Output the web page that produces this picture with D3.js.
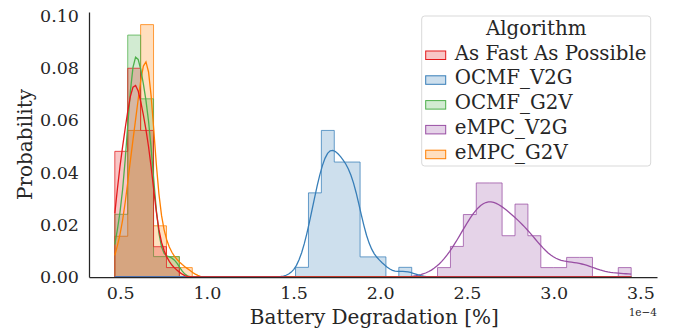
<!DOCTYPE html>
<html>
<head>
<meta charset="utf-8">
<script src="https://cdn.jsdelivr.net/npm/d3@7"></script>
<style>
    body { margin: 0; background: #fff; }
    text { font-family: "DejaVu Serif", serif; fill: #262626; }
</style>
</head>
<body>
<div id="graph"></div>
<script>
// data (x in units of 1e-4 %)
const algorithms = ["As Fast As Possible", "OCMF_V2G", "OCMF_G2V", "eMPC_V2G", "eMPC_G2V"];
const colors = ["#e41a1c", "#377eb8", "#4daf4a", "#984ea3", "#ff7f00"];

// shared bins
const binMin = 0.469,
    binMax = 3.447,
    nBins = 40;

// first bin index of each algorithm, then probability per bin
const firstBin = [0, 14, 0, 25, 0];
const probAfap = [0.0481, 0.0799, 0.0561, 0.0116, 0.0036];
const probOcmfV2G = [0.0037, 0.0322, 0.0561, 0.044, 0.044, 0.0077, 0.0077, 0, 0.0037];
const probOcmfG2V = [0.024, 0.0926, 0.0682, 0.0078, 0.0078];
const probEmpcV2G = [0.0036, 0.0117, 0.0239, 0.036, 0.036, 0.0158, 0.0279, 0.0158, 0.0036, 0.0036, 0.0075, 0.0075, 0, 0, 0.0036];
const probEmpcG2V = [0.0156, 0.0561, 0.0966, 0.0196, 0.0078, 0.0036];
const samplesPerAlgorithm = 54;

const xTicks = [0.5, 1.0, 1.5, 2.0, 2.5, 3.0, 3.5];
const yTicks = [0, 0.02, 0.04, 0.06, 0.08, 0.10];

const probs = [probAfap, probOcmfV2G, probOcmfG2V, probEmpcV2G, probEmpcG2V];

// set up svg
const margin = {
        top: 12,
        right: 23,
        bottom: 54,
        left: 89
    },
    width = 680 - margin.left - margin.right,
    height = 331 - margin.top - margin.bottom;

let svg = d3.select("#graph")
    .append("svg")
    .attr("width", width + margin.left + margin.right)
    .attr("height", height + margin.top + margin.bottom)
    .append("g")
    .attr("transform", "translate(" + margin.left + "," + margin.top + ")");

const binWidth = (binMax - binMin) / nBins;
const edges = d3.range(nBins + 1).map(i => binMin + i * binWidth);

// full histogram per algorithm (zeros outside its range)
let series = algorithms.map(function (name, s) {
    let h = d3.range(nBins).map(i => {
        let j = i - firstBin[s];
        return j >= 0 && j < probs[s].length ? probs[s][j] : 0;
    });
    return { name: name, color: colors[s], heights: h };
});

const span = binMax - binMin;
const yMax = d3.max(series, d => d3.max(d.heights));

let x = d3.scaleLinear()
    .domain([binMin - 0.05 * span, binMax + 0.05 * span])
    .range([0, width]);

let y = d3.scaleLinear()
    .domain([0, yMax * 1.05])
    .range([height, 0]);

// normal cdf (Abramowitz & Stegun erf)
function phi(z) {
    let t = z / Math.SQRT2,
        s = t < 0 ? -1 : 1;
    t = Math.abs(t);
    let k = 1 / (1 + 0.3275911 * t);
    let e = 1 - (((((1.061405429 * k - 1.453152027) * k) + 1.421413741) * k - 0.284496736) * k + 0.254829592) * k * Math.exp(-t * t);
    return 0.5 * (1 + s * e);
}

// kde from the binned values: each bin spread evenly, gaussian kernel, scott bandwidth
const grid = d3.range(200).map(i => binMin + i * span / 199);
series.forEach(function (d) {
    let centers = edges.slice(0, nBins).map(e => e + binWidth / 2);
    let total = d3.sum(d.heights);
    let mean = d3.sum(d.heights, (h, i) => h * centers[i]) / total;
    let variance = d3.sum(d.heights, (h, i) => h * (centers[i] - mean) ** 2) / total;
    let bw = Math.sqrt(variance) * Math.pow(samplesPerAlgorithm, -0.2);
    d.kde = grid.map(function (g) {
        let v = 0;
        d.heights.forEach(function (h, i) {
            if (h > 0) {
                v += h * (phi((g - edges[i]) / bw) - phi((g - edges[i + 1]) / bw));
            }
        });
        return [g, v];
    });
});

// step outline like seaborn's element="step"
function stepPath(h) {
    let pts = [[x(edges[0]), y(0)]];
    h.forEach(function (v, i) {
        pts.push([x(edges[i]), y(v)]);
        pts.push([x(edges[i + 1]), y(v)]);
    });
    pts.push([x(edges[nBins]), y(0)]);
    return "M" + pts.join("L") + "Z";
}

const drawOrder = series.slice().reverse();

svg.selectAll(".hist")
    .data(drawOrder)
    .enter()
    .append("path")
    .attr("class", "hist")
    .attr("d", d => stepPath(d.heights))
    .style("fill", d => d.color)
    .style("fill-opacity", 0.25)
    .style("stroke", d => d.color)
    .style("stroke-opacity", 0.75)
    .style("stroke-width", 1);

let line = d3.line()
    .x(d => x(d[0]))
    .y(d => y(d[1]));

svg.selectAll(".kde")
    .data(drawOrder)
    .enter()
    .append("path")
    .attr("class", "kde")
    .attr("d", d => line(d.kde))
    .style("fill", "none")
    .style("stroke", d => d.color)
    .style("stroke-width", 1.3);

// axes
let xAxis = svg.append("g")
    .attr("transform", "translate(0," + height + ")")
    .call(d3.axisBottom(x).tickValues(xTicks).tickFormat(d3.format(".1f")).tickSize(0).tickPadding(10));

let yAxis = svg.append("g")
    .call(d3.axisLeft(y).tickValues(yTicks).tickFormat(d3.format(".2f")).tickSize(0).tickPadding(10));

[xAxis, yAxis].forEach(function (a) {
    a.select(".domain").style("stroke", "#262626").style("stroke-width", 1.25);
    a.selectAll("text").style("font-size", "17.5px").style("font-family", "DejaVu Serif");
});

svg.append("text")
    .attr("x", x(2.0) - 6)
    .attr("y", height + 47)
    .attr("text-anchor", "middle")
    .style("font-size", "20px")
    .text("Battery Degradation [%]");

svg.append("text")
    .attr("transform", "translate(" + (-57) + "," + (height / 2) + ") rotate(-90)")
    .attr("text-anchor", "middle")
    .style("font-size", "20px")
    .text("Probability");

svg.append("text")
    .attr("x", width)
    .attr("y", height + 39)
    .attr("text-anchor", "end")
    .style("font-size", "10.5px")
    .text("1e\u22124");

// legend
let legend = svg.append("g")
    .attr("transform", "translate(" + (421.7 - margin.left) + "," + (16 - margin.top) + ")");

legend.append("rect")
    .attr("width", 229)
    .attr("height", 150)
    .attr("rx", 3)
    .style("fill", "#fff")
    .style("fill-opacity", 0.8)
    .style("stroke", "#d9d9d9");

legend.append("text")
    .attr("x", 114.5)
    .attr("y", 19)
    .attr("text-anchor", "middle")
    .style("font-size", "19.8px")
    .text("Algorithm");

let item = legend.selectAll(".item")
    .data(series)
    .enter()
    .append("g")
    .attr("class", "item")
    .attr("transform", (d, i) => "translate(0," + (36 + i * 24.8) + ")");

item.append("rect")
    .attr("x", 4)
    .attr("y", -1)
    .attr("width", 20)
    .attr("height", 8.5)
    .style("fill", d => d.color)
    .style("fill-opacity", 0.25)
    .style("stroke", d => d.color)
    .style("stroke-width", 1);

item.append("text")
    .attr("x", 33)
    .attr("y", 7.5)
    .style("font-size", "19.8px")
    .text(d => d.name);
</script>
</body>
</html>
